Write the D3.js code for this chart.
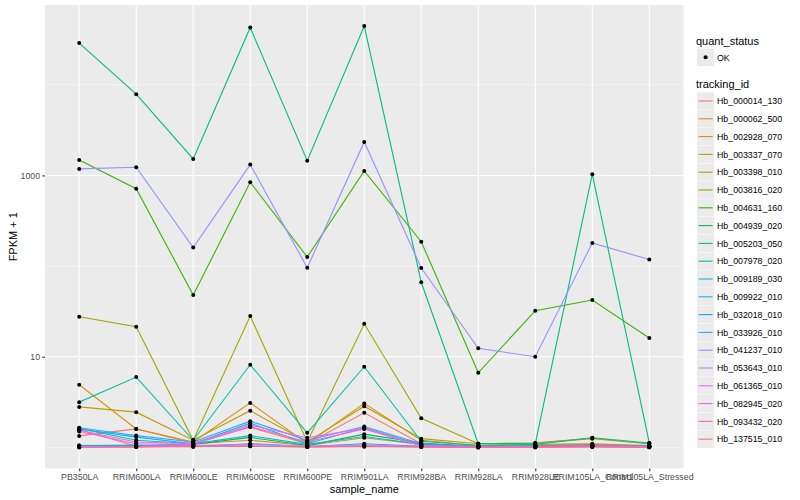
<!DOCTYPE html>
<html>
<head>
<meta charset="utf-8">
<script src="https://cdn.jsdelivr.net/npm/d3@7"></script>
<style>
  body { margin: 0; background: #fff; }
  svg text { font-family: "Liberation Sans", Arial, sans-serif; }
</style>
</head>
<body>
<div id="chart"></div>
<script>
const categories = ["PB350LA", "RRIM600LA", "RRIM600LE", "RRIM600SE", "RRIM600PE", "RRIM901LA",
  "RRIM928BA", "RRIM928LA", "RRIM928LE", "RRIM105LA_Control", "RRIM105LA_Stressed"];

const trackingIds = ["Hb_000014_130", "Hb_000062_500", "Hb_002928_070", "Hb_003337_070", "Hb_003398_010",
  "Hb_003816_020", "Hb_004631_160", "Hb_004939_020", "Hb_005203_050", "Hb_007978_020",
  "Hb_009189_030", "Hb_009922_010", "Hb_032018_010", "Hb_033926_010", "Hb_041237_010",
  "Hb_053643_010", "Hb_061365_010", "Hb_082945_020", "Hb_093432_020", "Hb_137515_010"];

// FPKM per tracking_id, one row per id, one value per sample
const fpkm = [
  [0.34, 0.6, 0.12, 0.67, 0.1, 1.41, 0.1, 0.02, 0.03, 0.05, 0.04],
  [0.58, 0.03, 0.1, 0.2, 0.05, 0.28, 0.08, 0.02, 0.05, 0.08, 0.03],
  [3.91, 0.6, 0.15, 2.1, 0.1, 2.06, 0.2, 0.05, 0.08, 0.1, 0.05],
  [1.8, 1.45, 0.2, 1.54, 0.15, 1.85, 0.25, 0.1, 0.12, 0.25, 0.1],
  [26.6, 20.4, 0.2, 27.1, 0.15, 22.1, 1.1, 0.1, 0.12, 0.27, 0.1],
  [0.02, 0.01, 0.05, 0.03, 0.02, 0.04, 0.02, 0.01, 0.02, 0.03, 0.02],
  [1482, 714, 47, 840, 125, 1121, 185, 5.66, 31.2, 41.3, 15.1],
  [0.05, 0.04, 0.08, 0.29, 0.05, 0.4, 0.12, 0.02, 0.03, 0.05, 0.04],
  [28800, 7870, 1519, 42800, 1455, 44400, 65.3, 0.1, 0.1, 1030, 0.12],
  [2.16, 4.97, 0.2, 7.16, 0.45, 6.76, 0.17, 0.05, 0.08, 0.28, 0.12],
  [0.62, 0.2, 0.1, 0.35, 0.08, 0.32, 0.08, 0.03, 0.04, 0.06, 0.04],
  [0.6, 0.3, 0.1, 0.85, 0.1, 0.65, 0.06, 0.02, 0.03, 0.04, 0.03],
  [0.05, 0.06, 0.02, 0.1, 0.02, 0.1, 0.03, 0.01, 0.02, 0.03, 0.01],
  [0.65, 0.35, 0.15, 0.95, 0.2, 0.7, 0.1, 0.02, 0.03, 0.04, 0.03],
  [1179, 1230, 159, 1315, 95, 2342, 94.3, 11.4, 9, 179, 117],
  [0.02, 0.03, 0.05, 0.08, 0.03, 0.07, 0.02, 0.01, 0.01, 0.02, 0.01],
  [0.55, 0.15, 0.1, 0.76, 0.28, 0.62, 0.05, 0.01, 0.02, 0.03, 0.02],
  [0.5, 0.1, 0.08, 0.7, 0.15, 0.6, 0.04, 0.01, 0.02, 0.04, 0.02],
  [0.0, 0.02, 0.03, 0.04, 0.01, 0.03, 0.01, 0.0, 0.01, 0.02, 0.01],
  [0.01, 0.01, 0.02, 0.03, 0.01, 0.02, 0.01, 0.0, 0.0, 0.01, 0.0]
];

const yTicks = [10, 1000];
const yMinor = [1, 100, 10000];

const colors = ["#F8766D", "#EA8331", "#D89000", "#C09B00", "#A3A500", "#7CAE00", "#39B600",
  "#00BB4E", "#00BF7D", "#00C1A3", "#00BFC4", "#00BAE0", "#00B0F6", "#35A2FF", "#9590FF",
  "#C77CFF", "#E76BF3", "#FA62DB", "#FF62BC", "#FF6C91"];

const width = 800, height = 500;
const panelLeft = 45, panelRight = 683.5, panelTop = 5, panelBottom = 468.5;

const svg = d3.select("#chart").append("svg")
  .attr("width", width).attr("height", height);

const series = trackingIds.map((id, i) => ({
  id: id,
  color: colors[i],
  values: categories.map((c, j) => ({ sample: c, v: fpkm[i][j] + 1 }))
}));

const x = d3.scalePoint().domain(categories).range([panelLeft, panelRight]).padding(0.6);

// ggplot-like 5% expansion on log scale
const all = series.flatMap(s => s.values.map(d => Math.log10(d.v)));
const lo = d3.min(all), hi = d3.max(all), pad = (hi - lo) * 0.05;
const y = d3.scaleLog().domain([10 ** (lo - pad), 10 ** (hi + pad)]).range([panelBottom, panelTop]);

// panel
svg.append("rect").attr("x", panelLeft).attr("y", panelTop)
  .attr("width", panelRight - panelLeft).attr("height", panelBottom - panelTop).attr("fill", "#EBEBEB");

svg.selectAll(".minor").data(yMinor).enter().append("line")
  .attr("x1", panelLeft).attr("x2", panelRight)
  .attr("y1", d => y(d)).attr("y2", d => y(d))
  .attr("stroke", "#fff").attr("stroke-width", 0.55);

svg.selectAll(".major-y").data(yTicks).enter().append("line")
  .attr("x1", panelLeft).attr("x2", panelRight)
  .attr("y1", d => y(d)).attr("y2", d => y(d))
  .attr("stroke", "#fff").attr("stroke-width", 1.1);

svg.selectAll(".major-x").data(categories).enter().append("line")
  .attr("x1", d => x(d)).attr("x2", d => x(d))
  .attr("y1", panelTop).attr("y2", panelBottom)
  .attr("stroke", "#fff").attr("stroke-width", 1.1);

// lines then points
const line = d3.line().x(d => x(d.sample)).y(d => y(d.v));
svg.selectAll(".series").data(series).enter().append("path")
  .attr("d", d => line(d.values))
  .attr("fill", "none")
  .attr("stroke", d => d.color)
  .attr("stroke-width", 1.1);

svg.selectAll(".pt").data(series.flatMap(s => s.values)).enter().append("circle")
  .attr("cx", d => x(d.sample)).attr("cy", d => y(d.v))
  .attr("r", 2).attr("fill", "#000");

// axes
const yAxis = svg.append("g").attr("transform", `translate(${panelLeft},0)`)
  .call(d3.axisLeft(y).tickValues(yTicks).tickFormat(d3.format("d")).tickSize(2.75).tickPadding(2.2));
const xAxis = svg.append("g").attr("transform", `translate(0,${panelBottom})`)
  .call(d3.axisBottom(x).tickSize(2.75).tickPadding(2.2));
[yAxis, xAxis].forEach(a => {
  a.select(".domain").remove();
  a.selectAll(".tick line").attr("stroke", "#333333").attr("stroke-width", 1.1);
  a.selectAll(".tick text").attr("fill", "#4D4D4D").style("font-size", "8.8px")
    .style("font-family", "'Liberation Sans', Arial, sans-serif");
});

svg.append("text").attr("x", (panelLeft + panelRight) / 2).attr("y", 493)
  .attr("text-anchor", "middle").style("font-size", "11px").text("sample_name");
svg.append("text")
  .attr("transform", `translate(17,${(panelTop + panelBottom) / 2}) rotate(-90)`)
  .attr("text-anchor", "middle").style("font-size", "11px").text("FPKM + 1");

// legends
const lg = svg.append("g");
lg.append("text").attr("x", 696).attr("y", 44.5).style("font-size", "11px").text("quant_status");
lg.append("rect").attr("x", 697).attr("y", 48.7).attr("width", 17.3).attr("height", 17.3).attr("fill", "#EBEBEB");
lg.append("circle").attr("cx", 705.6).attr("cy", 57.3).attr("r", 2).attr("fill", "#000");
lg.append("text").attr("x", 717).attr("y", 60.5).style("font-size", "8.8px").text("OK");

lg.append("text").attr("x", 696).attr("y", 88).style("font-size", "11px").text("tracking_id");
const keys = lg.selectAll(".key").data(series).enter().append("g")
  .attr("transform", (d, i) => `translate(697,${101 + i * 17.8 - 8.65})`);
keys.append("rect").attr("width", 17.3).attr("height", 17.3).attr("fill", "#EBEBEB");
keys.append("line").attr("x1", 1.7).attr("x2", 15.6).attr("y1", 8.65).attr("y2", 8.65)
  .attr("stroke", d => d.color).attr("stroke-width", 1.1);
keys.append("text").attr("x", 20).attr("y", 11.8).style("font-size", "8.8px").text(d => d.id);
</script>
</body>
</html>
